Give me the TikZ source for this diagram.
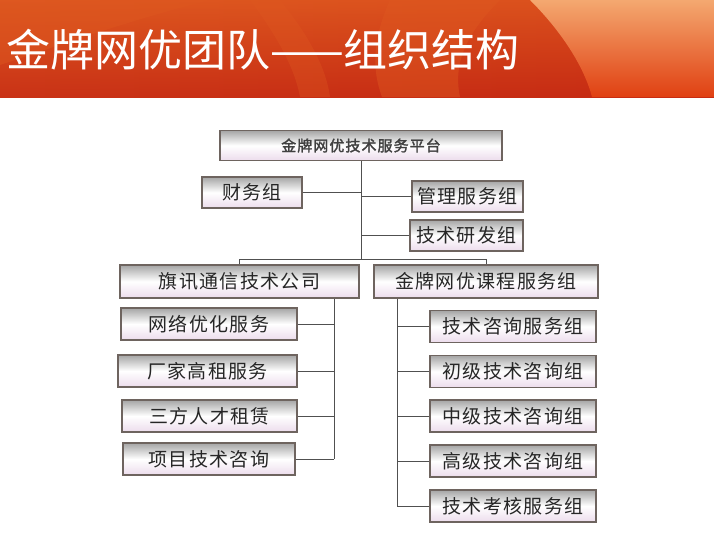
\documentclass[tikz,border=0pt]{standalone}
\usepackage{fontspec}
\newfontfamily\cjk[AutoFakeBold=2]{Noto Sans CJK SC}
\newfontfamily\cjkbox[LetterSpace=7,AutoFakeBold=2]{Noto Sans CJK SC}
\usetikzlibrary{calc}
\definecolor{boxtop}{RGB}{165,165,165}
\definecolor{boxbot}{RGB}{236,220,236}
\definecolor{boxline}{RGB}{110,100,95}
\definecolor{wire}{RGB}{80,80,80}
\definecolor{bannerA}{RGB}{222,88,32}
\definecolor{bannerB}{RGB}{158,10,8}
\definecolor{bannerC}{RGB}{214,70,24}
\definecolor{peach}{RGB}{244,168,112}
\definecolor{deeporange}{RGB}{224,64,18}
\definecolor{deepred}{RGB}{182,14,14}
\tikzset{
  box/.style={draw=boxline, line width=1.2pt, top color=boxtop, bottom color=boxbot, middle color=white,
    inner sep=0pt, font=\cjkbox\fontsize{19}{21}\selectfont, text=black!85, minimum height=32pt},
  wireline/.style={draw=wire, line width=0.9pt},
}
\begin{document}
\begin{tikzpicture}[x=1pt,y=-1pt]
\useasboundingbox (0,0) rectangle (714,535);
\fill[white] (0,0) rectangle (714,535);
% banner
\shade[left color=bannerA, middle color=bannerB, right color=bannerC] (0,0) rectangle (714,97);
\shade[top color=bannerA, bottom color=deepred, opacity=0.5] (0,0) rectangle (714,97);
\fill[bannerA, opacity=0.45] (0,0) -- (210,0) .. controls (130,20) and (60,45) .. (0,65) -- cycle;
\fill[bannerA, opacity=0.35] (250,0) .. controls (280,40) and (295,70) .. (300,97) -- (330,97) .. controls (325,60) and (300,25) .. (280,0) -- cycle;
\fill[bannerA, opacity=0.45] (390,0) .. controls (372,40) and (372,70) .. (382,97) -- (460,97) .. controls (452,60) and (470,30) .. (500,0) -- cycle;
\shade[top color=peach, bottom color=deeporange] (530,0) .. controls (565,35) and (585,70) .. (592,97) -- (714,97) -- (714,0) -- cycle;
\node[anchor=west, text=white, font=\cjk\fontsize{44}{48}\selectfont, inner sep=0pt] (title) at (6,50) {金牌网优团队——组织结构};
% nodes
\node[box, minimum width=282pt, minimum height=30pt, font=\cjkbox\bfseries\fontsize{15}{17}\selectfont, text=black!75] (top) at (361,145.5) {金牌网优技术服务平台};
\node[box, minimum width=100pt, minimum height=31pt] (cw) at (252,192.5) {财务组};
\node[box, minimum width=111pt, minimum height=31pt] (gl) at (467.5,196.5) {管理服务组};
\node[box, minimum width=113pt, minimum height=31pt] (yf) at (466.5,235.5) {技术研发组};
\node[box, minimum width=239pt, minimum height=33pt] (qx) at (239.5,281.5) {旗讯通信技术公司};
\node[box, minimum width=224pt, minimum height=33pt] (kc) at (486,281.5) {金牌网优课程服务组};
\node[box, minimum width=176pt] (l1) at (209,324) {网络优化服务};
\node[box, minimum width=179pt] (l2) at (207.5,371) {厂家高租服务};
\node[box, minimum width=175pt] (l3) at (209.5,416) {三方人才租赁};
\node[box, minimum width=172pt] (l4) at (209,459) {项目技术咨询};
\node[box, minimum width=166pt] (r1) at (513,326.5) {技术咨询服务组};
\node[box, minimum width=166pt] (r2) at (513,371.5) {初级技术咨询组};
\node[box, minimum width=166pt] (r3) at (513,416) {中级技术咨询组};
\node[box, minimum width=166pt] (r4) at (513,461) {高级技术咨询组};
\node[box, minimum width=166pt] (r5) at (513,506) {技术考核服务组};
% connectors
\coordinate (bar) at (362,259);
\coordinate (lv) at (334,0);
\coordinate (rv) at (397,0);
\draw[wireline] (top.south) -- (top.south |- bar);
\draw[wireline] (cw.east) -- (cw.east -| top.south);
\draw[wireline] (gl.west) -- (gl.west -| top.south);
\draw[wireline] (yf.west) -- (yf.west -| top.south);
\draw[wireline] (qx.north) -- (qx.north |- bar) -- (kc.north |- bar) -- (kc.north);
\draw[wireline] (qx.south -| lv) -- (l4.east -| lv);
\draw[wireline] (l1.east) -- (l1.east -| lv);
\draw[wireline] (l2.east) -- (l2.east -| lv);
\draw[wireline] (l3.east) -- (l3.east -| lv);
\draw[wireline] (l4.east) -- (l4.east -| lv);
\draw[wireline] (kc.south -| rv) -- (r5.west -| rv);
\draw[wireline] (r1.west) -- (r1.west -| rv);
\draw[wireline] (r2.west) -- (r2.west -| rv);
\draw[wireline] (r3.west) -- (r3.west -| rv);
\draw[wireline] (r4.west) -- (r4.west -| rv);
\draw[wireline] (r5.west) -- (r5.west -| rv);
\end{tikzpicture}
\end{document}
